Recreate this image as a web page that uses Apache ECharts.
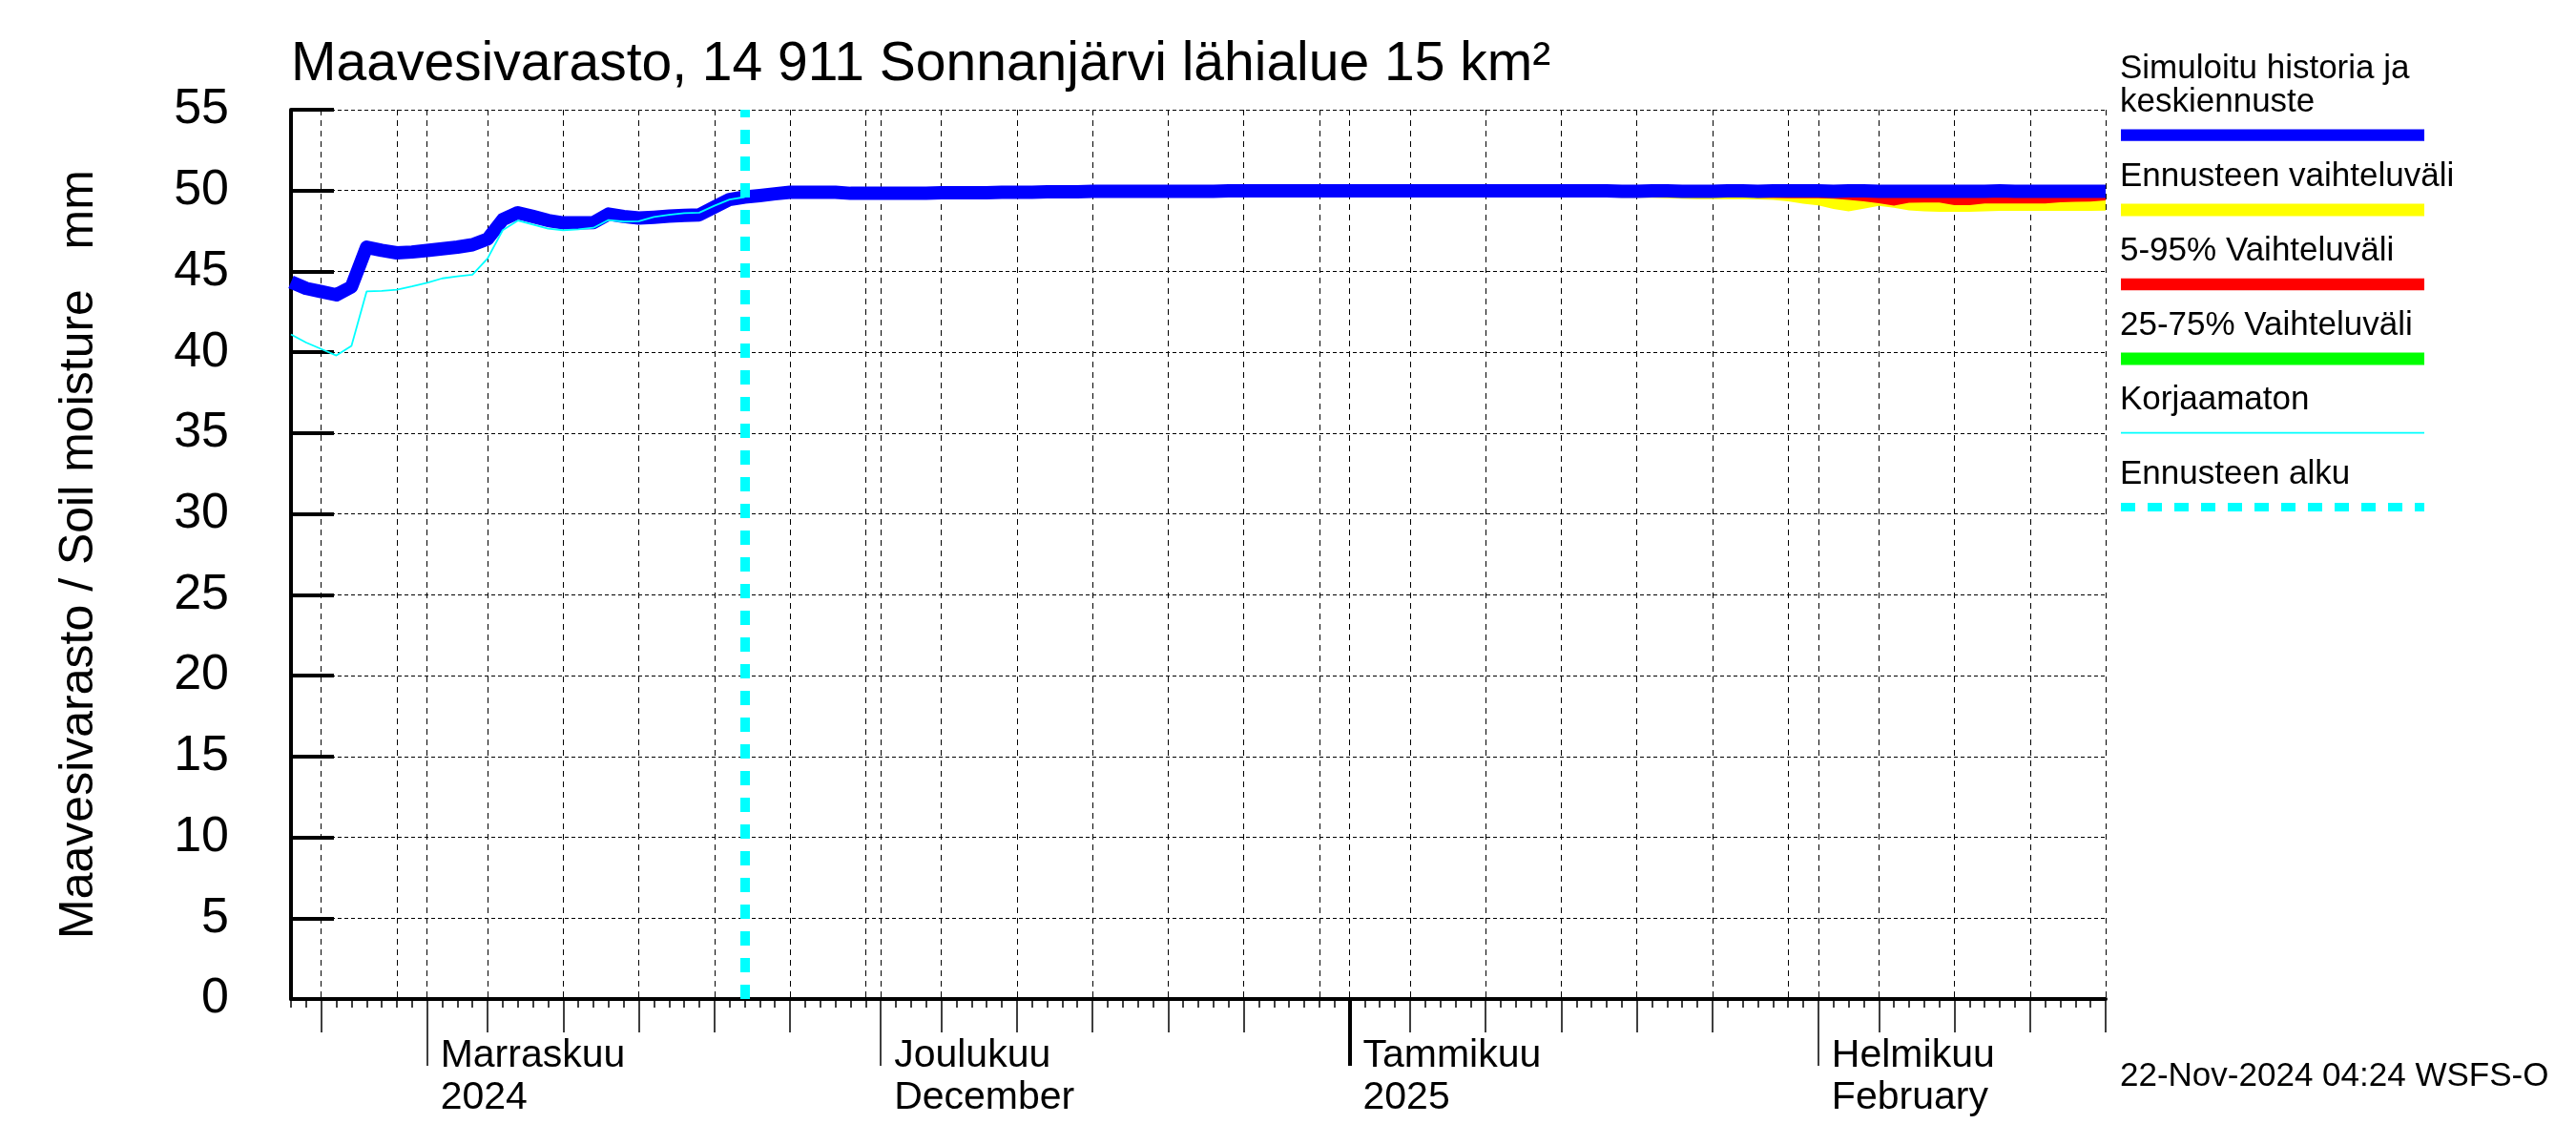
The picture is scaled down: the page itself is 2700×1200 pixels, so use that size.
<!DOCTYPE html>
<html>
<head>
<meta charset="utf-8">
<script src="https://cdn.jsdelivr.net/npm/echarts@6/dist/echarts.min.js"></script>
<style>
html,body{margin:0;padding:0;background:#fff;}
#chart{width:2700px;height:1200px;}
</style>
</head>
<body>
<div id="chart"></div>
<script>
// ---- data ----
const START_DATE = '2024-10-23';
const N_DAYS = 121;            // 2024-10-23 .. 2025-02-20
const FORECAST_START = '2024-11-22';
const FC_INDEX = 30;           // index of forecast start in the day list

const MONTH_LABELS = {
  '2024-11-01': 'Marraskuu\n2024',
  '2024-12-01': 'Joulukuu\nDecember',
  '2025-01-01': 'Tammikuu\n2025',
  '2025-02-01': 'Helmikuu\nFebruary'
};
const Y_TICKS = [0,5,10,15,20,25,30,35,40,45,50,55];

// Simuloitu historia ja keskiennuste (daily, from 2024-10-23)
const SIM_MEAN = [
  44.35,43.95,43.75,43.55,44.05,46.5,46.3,46.15,46.2,46.3,
  46.4,46.5,46.65,47.0,48.2,48.63,48.4,48.15,48.0,48.0,
  48.02,48.55,48.4,48.3,48.35,48.42,48.47,48.5,48.98,49.45,
  49.6,49.69,49.8,49.9,49.9,49.9,49.9,49.83,49.83,49.83,
  49.83,49.83,49.83,49.87,49.87,49.87,49.87,49.9,49.9,49.9,
  49.93,49.93,49.93,49.96,49.96,49.96,49.96,49.96,49.96,49.96,
  49.96,49.96,49.98,49.98,49.98,49.98,49.98,49.98,49.98,49.98,
  49.98,49.98,49.98,49.98,49.98,49.98,49.98,49.98,49.98,49.98,
  49.98,49.98,49.98,49.98,49.98,49.98,49.98,49.98,49.95,49.95,
  49.98,49.98,49.95,49.95,49.95,49.98,49.98,49.95,49.98,49.98,
  49.98,49.98,49.95,49.98,49.98,49.95,49.95,49.95,49.95,49.95,
  49.95,49.95,49.95,49.98,49.95,49.95,49.95,49.95,49.95,49.95,
  49.95
];

// Korjaamaton (history only, from 2024-10-23)
const UNCORRECTED = [
  41.1,40.6,40.2,39.8,40.4,43.76,43.8,43.87,44.08,44.3,
  44.57,44.7,44.8,45.8,47.55,48.14,47.9,47.65,47.55,47.6,
  47.7,48.18,48.08,48.1,48.37,48.5,48.6,48.63,49.06,49.45,
  49.6
];

// Forecast ranges, daily from 2024-11-22 (91 values)
const RANGE_MAX = [
  49.6,49.75,50.1,50.1,50.1,50.1,50.1,50.1,50.1,50.1,
  50.1,50.1,50.1,50.1,50.1,50.1,50.1,50.1,50.1,50.1,
  50.1,50.1,50.1,50.1,50.1,50.1,50.1,50.1,50.1,50.1,
  50.1,50.1,50.1,50.1,50.1,50.1,50.1,50.1,50.1,50.1,
  50.1,50.1,50.1,50.1,50.1,50.1,50.1,50.1,50.1,50.1,
  50.1,50.1,50.1,50.1,50.1,50.1,50.1,50.1,50.1,50.1,
  50.1,50.1,50.1,50.1,50.1,50.1,50.1,50.1,50.1,50.1,
  50.1,50.1,50.1,50.1,50.1,50.1,50.1,50.1,50.1,50.1,
  50.1,50.1,50.1,50.1,50.1,50.1,50.1,50.1,50.1,50.1,
  50.1
];
const RANGE_MIN = [
  49.6,49.65,49.75,49.75,49.75,49.75,49.75,49.75,49.75,49.75,
  49.75,49.75,49.75,49.75,49.75,49.75,49.75,49.75,49.75,49.75,
  49.75,49.75,49.75,49.75,49.75,49.75,49.75,49.75,49.75,49.75,
  49.75,49.75,49.75,49.75,49.75,49.75,49.75,49.75,49.75,49.75,
  49.75,49.75,49.75,49.75,49.75,49.75,49.75,49.75,49.75,49.75,
  49.75,49.72,49.68,49.65,49.63,49.62,49.6,49.58,49.55,49.55,
  49.55,49.53,49.5,49.47,49.47,49.47,49.47,49.46,49.42,49.33,
  49.18,49.08,48.87,48.72,48.88,49.06,48.93,48.78,48.72,48.68,
  48.68,48.68,48.72,48.74,48.74,48.74,48.74,48.74,48.74,48.74,
  48.76
];
const P95 = [
  49.6,49.72,50.05,50.05,50.05,50.05,50.05,50.05,50.05,50.05,
  50.05,50.05,50.05,50.05,50.05,50.05,50.05,50.05,50.05,50.05,
  50.05,50.05,50.05,50.05,50.05,50.05,50.05,50.05,50.05,50.05,
  50.05,50.05,50.05,50.05,50.05,50.05,50.05,50.05,50.05,50.05,
  50.05,50.05,50.05,50.05,50.05,50.05,50.05,50.05,50.05,50.05,
  50.05,50.05,50.05,50.05,50.05,50.05,50.05,50.05,50.05,50.05,
  50.05,50.05,50.05,50.05,50.05,50.05,50.05,50.05,50.05,50.05,
  50.05,50.05,50.05,50.05,50.05,50.05,50.05,50.05,50.05,50.05,
  50.05,50.05,50.05,50.05,50.05,50.05,50.05,50.05,50.05,50.05,
  50.05
];
const P05 = [
  49.6,49.66,49.8,49.8,49.8,49.8,49.8,49.8,49.8,49.8,
  49.8,49.8,49.8,49.8,49.8,49.8,49.8,49.8,49.8,49.8,
  49.8,49.8,49.8,49.8,49.8,49.8,49.8,49.8,49.8,49.8,
  49.8,49.8,49.8,49.8,49.8,49.8,49.8,49.8,49.8,49.8,
  49.8,49.8,49.8,49.8,49.8,49.8,49.8,49.8,49.8,49.8,
  49.8,49.8,49.8,49.8,49.8,49.8,49.8,49.8,49.8,49.8,
  49.8,49.8,49.8,49.8,49.8,49.8,49.62,49.55,49.54,49.53,
  49.53,49.52,49.5,49.42,49.33,49.22,49.07,49.24,49.26,49.26,
  49.1,49.1,49.2,49.2,49.2,49.2,49.2,49.28,49.3,49.32,
  49.39
];
const P75 = [
  49.6,49.7,50.0,50.0,50.0,50.0,50.0,50.0,50.0,50.0,
  50.0,50.0,50.0,50.0,50.0,50.0,50.0,50.0,50.0,50.0,
  50.0,50.0,50.0,50.0,50.0,50.0,50.0,50.0,50.0,50.0,
  50.0,50.0,50.0,50.0,50.0,50.0,50.0,50.0,50.0,50.0,
  50.0,50.0,50.0,50.0,50.0,50.0,50.0,50.0,50.0,50.0,
  50.0,50.0,50.0,50.0,50.0,50.0,50.0,50.0,50.0,50.0,
  50.0,50.0,50.0,50.0,50.0,50.0,50.0,50.0,50.0,50.0,
  50.0,50.0,50.0,50.0,50.0,50.0,50.0,50.0,50.0,50.0,
  50.0,50.0,50.0,50.0,50.0,50.0,50.0,50.0,50.0,50.0,
  50.0
];
const P25 = [
  49.6,49.67,49.88,49.88,49.88,49.88,49.88,49.88,49.88,49.88,
  49.88,49.88,49.88,49.88,49.88,49.88,49.88,49.88,49.88,49.88,
  49.88,49.88,49.88,49.88,49.88,49.88,49.88,49.88,49.88,49.88,
  49.88,49.88,49.88,49.88,49.88,49.88,49.88,49.88,49.88,49.88,
  49.88,49.88,49.88,49.88,49.88,49.88,49.88,49.88,49.88,49.88,
  49.88,49.88,49.88,49.88,49.88,49.88,49.88,49.88,49.88,49.88,
  49.88,49.88,49.88,49.88,49.88,49.88,49.88,49.88,49.88,49.88,
  49.88,49.88,49.88,49.88,49.88,49.88,49.88,49.88,49.88,49.88,
  49.88,49.88,49.88,49.88,49.88,49.88,49.88,49.88,49.88,49.88,
  49.88
];

// ---- build tables the library needs ----
const FONT = '"Liberation Sans", Arial, Helvetica, sans-serif';
const DATES = [];
(function(){
  const t0 = Date.parse(START_DATE + 'T00:00:00Z');
  for (let i = 0; i < N_DAYS; i++) {
    DATES.push(new Date(t0 + i * 86400000).toISOString().slice(0, 10));
  }
})();
const dayOf = v => +String(v).slice(8, 10);
function padFc(arr) { const out = []; for (let i = 0; i < FC_INDEX; i++) out.push(null); return out.concat(arr); }
function bandWidth(hi, lo) { return hi.map((v, i) => +(v - lo[i]).toFixed(3)); }

const chart = echarts.init(document.getElementById('chart'), null, {renderer: 'canvas'});

function bandSeries(stackName, lo, hi, color) {
  return [
    { type: 'line', stack: stackName, data: padFc(lo), symbol: 'none', silent: true,
      lineStyle: {opacity: 0, width: 0}, z: 1, animation: false },
    { type: 'line', stack: stackName, data: padFc(bandWidth(hi, lo)), symbol: 'none', silent: true,
      lineStyle: {opacity: 0, width: 0}, areaStyle: {color: color, opacity: 1}, z: 1, animation: false }
  ];
}

const baseX = {
  type: 'category', data: DATES, boundaryGap: false, position: 'bottom',
  axisLine: {show: false}, axisLabel: {show: false}, splitLine: {show: false}
};

const option = {
  backgroundColor: '#fff',
  animation: false,
  title: {
    text: 'Maavesivarasto, 14 911 Sonnanjärvi lähialue 15 km²',
    left: 305, top: 40, padding: 0,
    textStyle: {fontFamily: FONT, fontSize: 57, fontWeight: 'normal', color: '#000', lineHeight: 57}
  },
  grid: {left: 305, right: 493, top: 115, bottom: 153, containLabel: false},
  xAxis: [
    Object.assign({}, baseX, {
      axisLine: {show: true, onZero: false, lineStyle: {color: '#000', width: 4}},
      axisTick: {show: true, length: 9, interval: 0, lineStyle: {color: '#000', width: 1.5}},
      splitLine: {show: true, interval: (i, v) => [1,5,10,15,20,25,30].indexOf(dayOf(v)) >= 0,
        lineStyle: {color: '#000', width: 1, type: [6, 5]}}
    }),
    Object.assign({}, baseX, {
      axisTick: {show: true, length: 35, interval: (i, v) => [5,10,15,20,25].indexOf(dayOf(v)) >= 0,
        lineStyle: {color: '#000', width: 1.5}}
    }),
    Object.assign({}, baseX, {
      axisTick: {show: true, length: 70, interval: (i, v) => dayOf(v) === 1,
        lineStyle: {color: '#000', width: 1.5}},
      axisLabel: {show: true, interval: (i, v) => dayOf(v) === 1,
        formatter: v => MONTH_LABELS[v] || '',
        fontFamily: FONT, fontSize: 41, lineHeight: 44, color: '#000',
        align: 'left', margin: 38, padding: [0, 0, 0, 14]}
    }),
    Object.assign({}, baseX, {
      axisTick: {show: true, length: 70, interval: (i, v) => v === '2025-01-01',
        lineStyle: {color: '#000', width: 4}}
    })
  ],
  yAxis: {
    type: 'value', min: Y_TICKS[0], max: Y_TICKS[Y_TICKS.length - 1], interval: Y_TICKS[1] - Y_TICKS[0],
    name: 'Maavesivarasto / Soil moisture   mm',
    nameLocation: 'middle', nameGap: 197, nameRotate: 90,
    nameTextStyle: {fontFamily: FONT, fontSize: 50, color: '#000'},
    axisLine: {show: true, lineStyle: {color: '#000', width: 4}},
    axisTick: {show: true, inside: true, length: 45, lineStyle: {color: '#000', width: 4}},
    axisLabel: {fontFamily: FONT, fontSize: 52, color: '#000', margin: 65, padding: [0, 0, 14, 0]},
    splitLine: {show: true, lineStyle: {color: '#000', width: 1, type: [4, 3]}}
  },
  series: [].concat(
    bandSeries('range', RANGE_MIN, RANGE_MAX, '#ffff00'),
    bandSeries('p595', P05, P95, '#ff0000'),
    bandSeries('p2575', P25, P75, '#00ff00'),
    [
      { name: 'Simuloitu historia ja keskiennuste', type: 'line', data: SIM_MEAN, symbol: 'none',
        lineStyle: {color: '#0000ff', width: 14, join: 'round'}, z: 3, silent: true },
      { name: 'Korjaamaton', type: 'line', data: UNCORRECTED, symbol: 'none',
        lineStyle: {color: '#00ffff', width: 1.8}, z: 4, silent: true },
      { name: 'Ennusteen alku', type: 'line', data: [], z: 5, silent: true,
        markLine: {symbol: 'none', silent: true, label: {show: false},
          lineStyle: {color: '#00ffff', width: 10, type: [15, 13]},
          emphasis: {disabled: true},
          data: [{xAxis: FORECAST_START}]} }
    ]
  ),
  graphic: [
    // legend
    {type: 'text', x: 2222, y: 72.4, style: {text: 'Simuloitu historia ja', fontFamily: FONT, fontSize: 35, fill: '#000', verticalAlign: 'middle'}},
    {type: 'text', x: 2222, y: 107.6, style: {text: 'keskiennuste', fontFamily: FONT, fontSize: 35, fill: '#000', verticalAlign: 'middle'}},
    {type: 'line', shape: {x1: 2223, y1: 141.6, x2: 2541, y2: 141.6}, style: {stroke: '#0000ff', lineWidth: 12.3}},
    {type: 'text', x: 2222, y: 185.5, style: {text: 'Ennusteen vaihteluväli', fontFamily: FONT, fontSize: 35, fill: '#000', verticalAlign: 'middle'}},
    {type: 'line', shape: {x1: 2223, y1: 220, x2: 2541, y2: 220}, style: {stroke: '#ffff00', lineWidth: 13}},
    {type: 'text', x: 2222, y: 263.4, style: {text: '5-95% Vaihteluväli', fontFamily: FONT, fontSize: 35, fill: '#000', verticalAlign: 'middle'}},
    {type: 'line', shape: {x1: 2223, y1: 298, x2: 2541, y2: 298}, style: {stroke: '#ff0000', lineWidth: 12.7}},
    {type: 'text', x: 2222, y: 341, style: {text: '25-75% Vaihteluväli', fontFamily: FONT, fontSize: 35, fill: '#000', verticalAlign: 'middle'}},
    {type: 'line', shape: {x1: 2223, y1: 376, x2: 2541, y2: 376}, style: {stroke: '#00ff00', lineWidth: 13}},
    {type: 'text', x: 2222, y: 419.6, style: {text: 'Korjaamaton', fontFamily: FONT, fontSize: 35, fill: '#000', verticalAlign: 'middle'}},
    {type: 'line', shape: {x1: 2223, y1: 453.6, x2: 2541, y2: 453.6}, style: {stroke: '#00ffff', lineWidth: 1.6}},
    {type: 'text', x: 2222, y: 497.5, style: {text: 'Ennusteen alku', fontFamily: FONT, fontSize: 35, fill: '#000', verticalAlign: 'middle'}},
    {type: 'line', shape: {x1: 2223, y1: 531.5, x2: 2541, y2: 531.5}, style: {stroke: '#00ffff', lineWidth: 9, lineDash: [15, 13]}},
    // timestamp
    {type: 'text', x: 2222, y: 1127.9, style: {text: '22-Nov-2024 04:24 WSFS-O', fontFamily: FONT, fontSize: 35, fill: '#000', verticalAlign: 'middle'}}
  ]
};
chart.setOption(option);
</script>
</body>
</html>
